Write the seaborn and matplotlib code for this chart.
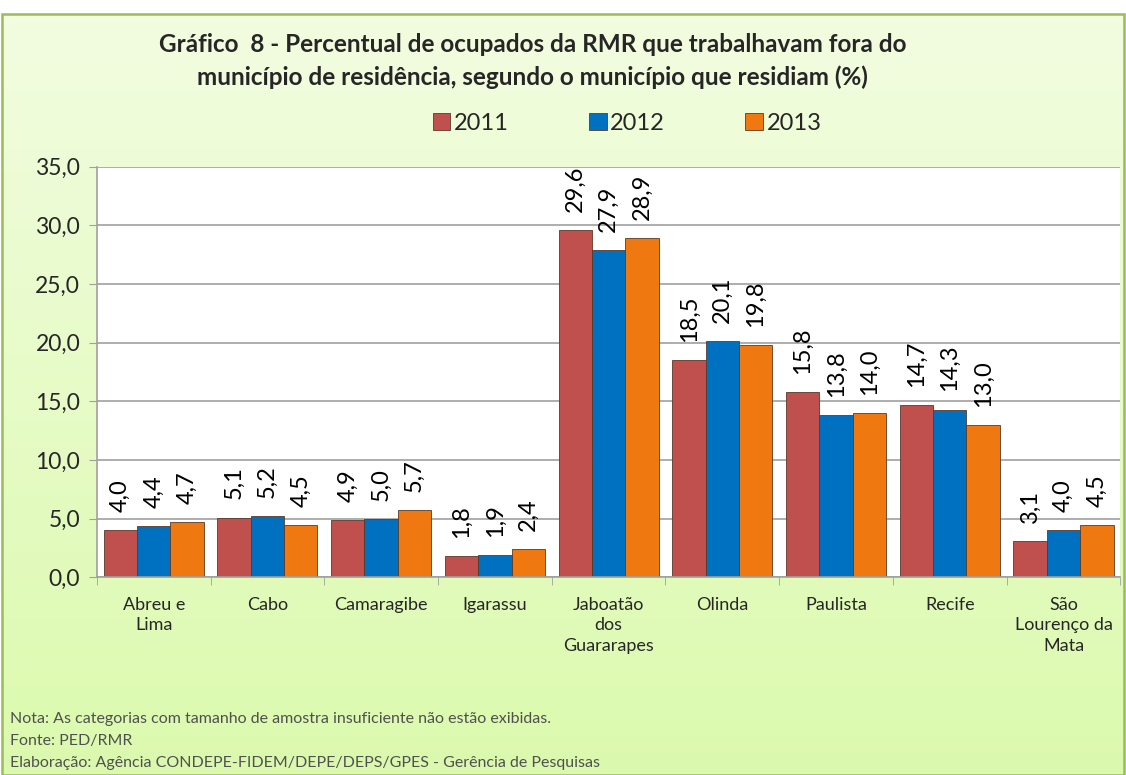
import numpy as np
import pandas as pd
import matplotlib
matplotlib.use("Agg")
import matplotlib.pyplot as plt
import seaborn as sns

municipios = ["Abreu e\nLima", "Cabo", "Camaragibe", "Igarassu", "Jaboatão\ndos\nGuararapes",
              "Olinda", "Paulista", "Recife", "São\nLourenço da\nMata"]
anos = ["2011", "2012", "2013"]
v2011 = [4.0, 5.1, 4.9, 1.8, 29.6, 18.5, 15.8, 14.7, 3.1]
v2012 = [4.4, 5.2, 5.0, 1.9, 27.9, 20.1, 13.8, 14.3, 4.0]
v2013 = [4.7, 4.5, 5.7, 2.4, 28.9, 19.8, 14.0, 13.0, 4.5]
cores = ["#c0504d", "#0070c0", "#f07810"]

df = pd.DataFrame({
    "municipio": municipios * 3,
    "ano": np.repeat(anos, len(municipios)),
    "valor": v2011 + v2012 + v2013,
})

sns.set_style("white")
plt.rcParams["font.family"] = ["Lato", "DejaVu Sans"]

fig = plt.figure(figsize=(11.26, 7.75), dpi=100)

# fundo em degradê dentro da moldura
bg = fig.add_axes([0, 0, 1, 1], zorder=-10)
grad = np.linspace(0, 1, 256).reshape(-1, 1)
top = np.array([0.95, 0.99, 0.88])
bot = np.array([0.86, 0.98, 0.68])
img = top + (bot - top) * grad[:, :, None]
y_top = 1 - 14 / 775
bg.imshow(img, aspect="auto", extent=[0.002, 0.998, 0, y_top])
bg.add_patch(plt.Rectangle((0.002, 0.0), 0.996, y_top, fill=False,
                           edgecolor="#9bbb59", linewidth=1.8))
bg.set_xlim(0, 1)
bg.set_ylim(0, 1)
bg.axis("off")

ax = fig.add_axes([0.086, 0.255, 0.909, 0.53])
sns.barplot(data=df, x="municipio", y="valor", hue="ano", palette=cores,
            width=0.88, ax=ax, edgecolor="#5a3a2a", linewidth=0.6, saturation=1)

for cont in ax.containers:
    ax.bar_label(cont, labels=[f"{v:.1f}".replace(".", ",") for v in cont.datavalues],
                 rotation=90, padding=13, fontsize=17, color="black")

ax.set_ylim(0, 35)
ax.set_yticks(np.arange(0, 35.1, 5))
ax.set_yticklabels([f"{t:.1f}".replace(".", ",") for t in np.arange(0, 35.1, 5)], fontsize=16.5)
ax.set_xticks(np.arange(-0.5, len(municipios), 1), minor=True)
ax.tick_params(axis="x", which="major", labelsize=13, length=0, pad=14)
ax.tick_params(axis="x", which="minor", length=6, color="#a0a0a0", direction="out", bottom=True)
ax.tick_params(axis="y", length=6, color="#a0a0a0", direction="out", left=True, pad=6)
for lab in ax.get_xticklabels():
    lab.set_linespacing(1.35)
ax.set_xlabel("")
ax.set_ylabel("")
ax.grid(axis="y", color="#a0a0a0", linewidth=1.2)
ax.set_axisbelow(True)
for s in ["top", "right"]:
    ax.spines[s].set_visible(False)
ax.spines["left"].set_color("#a0a0a0")
ax.spines["bottom"].set_color("#a0a0a0")
ax.spines["left"].set_linewidth(1.2)
ax.spines["bottom"].set_linewidth(1.2)
ax.set_xlim(-0.5, len(municipios) - 0.5)

ax.legend(loc="center", bbox_to_anchor=(0.518, 1.105), ncol=3, frameon=False,
          fontsize=17, handlelength=0.75, handleheight=0.75, handletextpad=0.15,
          columnspacing=3.4)

fig.text(0.473, 0.921, "Gráfico  8 - Percentual de ocupados da RMR que trabalhavam fora do\n"
         "município de residência, segundo o município que residiam (%)",
         ha="center", va="center", fontsize=17.5, fontweight="bold", linespacing=1.5)

notas = ["Nota: As categorias com tamanho de amostra insuficiente não estão exibidas.",
         "Fonte: PED/RMR",
         "Elaboração: Agência CONDEPE-FIDEM/DEPE/DEPS/GPES - Gerência de Pesquisas"]
for i, n in enumerate(notas):
    fig.text(0.009, 1 - (719 + i * 22) / 775, n, fontsize=11.5, color="#505050", va="center")

fig.savefig("out.png", dpi=100)
